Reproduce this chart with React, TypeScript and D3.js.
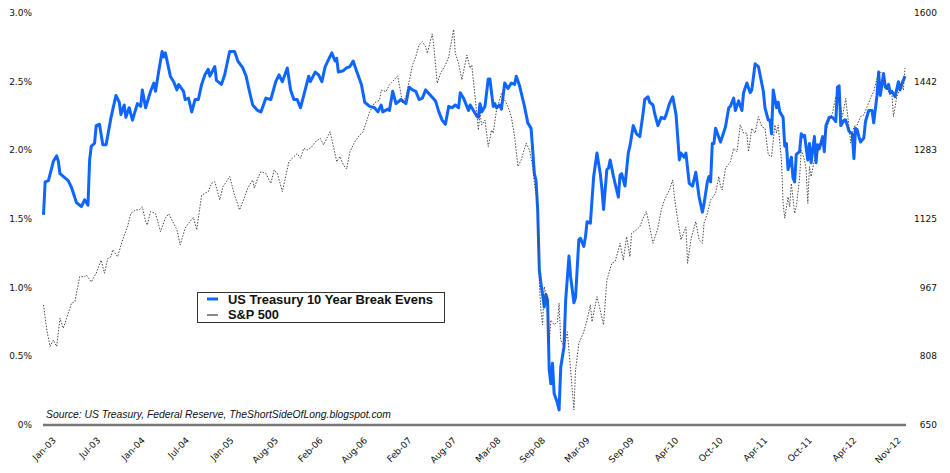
import React from 'react';
import * as d3 from 'd3';

// US Treasury 10 Year Break Evens (%), [week since Jan-03, value]
const breakEvens: [number, number][] = [
  [0,1.53],[1,1.77],[3,1.78],[6,1.92],[8,1.96],[9,1.92],[10,1.83],[15,1.78],[17,1.73],[20,1.62],[23,1.59],[25,1.64],[27,1.60],[28,1.93],[29,2.03],[31,2.05],[32,2.18],[34,2.19],[36,2.04],[38,2.04],[41,2.24],[44,2.40],[46,2.35],[47,2.26],[49,2.33],[50,2.24],[52,2.31],[54,2.22],[57,2.34],[59,2.32],[60,2.44],[62,2.31],[65,2.43],[67,2.49],[68,2.43],[70,2.58],[72,2.72],[73,2.68],[74,2.71],[77,2.54],[79,2.50],[81,2.44],[82,2.48],[85,2.43],[86,2.37],[88,2.38],[90,2.28],[92,2.37],[94,2.37],[96,2.48],[98,2.55],[100,2.59],[101,2.54],[104,2.61],[105,2.51],[108,2.48],[110,2.55],[113,2.72],[116,2.72],[118,2.65],[121,2.60],[123,2.54],[125,2.43],[127,2.33],[130,2.29],[132,2.28],[135,2.38],[138,2.37],[141,2.50],[143,2.55],[145,2.50],[148,2.60],[150,2.44],[152,2.37],[154,2.37],[156,2.31],[158,2.40],[161,2.54],[162,2.50],[165,2.57],[167,2.55],[169,2.50],[171,2.61],[175,2.71],[177,2.65],[178,2.67],[179,2.57],[182,2.58],[184,2.60],[186,2.61],[188,2.65],[190,2.58],[193,2.48],[195,2.35],[198,2.32],[201,2.31],[203,2.28],[205,2.33],[206,2.28],[209,2.30],[210,2.29],[212,2.43],[214,2.34],[217,2.37],[220,2.34],[222,2.46],[224,2.44],[226,2.43],[228,2.37],[230,2.38],[232,2.44],[235,2.40],[238,2.36],[240,2.28],[242,2.22],[244,2.19],[246,2.32],[248,2.31],[250,2.33],[252,2.31],[253,2.42],[255,2.38],[258,2.29],[259,2.33],[262,2.27],[263,2.25],[264,2.24],[265,2.34],[266,2.28],[268,2.32],[270,2.52],[271,2.52],[273,2.32],[274,2.34],[275,2.31],[277,2.33],[278,2.30],[280,2.49],[282,2.45],[284,2.49],[286,2.48],[287,2.54],[289,2.47],[291,2.37],[292,2.32],[294,2.20],[296,2.16],[297,2.00],[298,1.83],[299,1.78],[300,1.57],[301,1.13],[302,1.03],[304,0.86],[305,0.95],[306,0.91],[307,0.40],[308,0.30],[309,0.45],[310,0.23],[312,0.16],[313,0.11],[314,0.42],[316,0.57],[317,0.91],[319,1.23],[320,1.08],[322,0.89],[323,0.93],[325,1.35],[326,1.36],[328,1.30],[329,1.37],[330,1.48],[332,1.47],[334,1.81],[336,1.98],[338,1.83],[339,1.72],[340,1.57],[342,1.86],[343,1.87],[344,1.93],[346,1.81],[347,1.76],[349,1.66],[350,1.82],[351,1.83],[353,1.74],[355,1.98],[356,2.03],[358,2.18],[360,2.12],[362,2.10],[364,2.27],[365,2.37],[367,2.39],[368,2.35],[370,2.33],[371,2.27],[373,2.18],[375,2.24],[377,2.23],[378,2.26],[380,2.34],[382,2.39],[384,2.26],[385,2.10],[386,1.93],[387,1.98],[389,1.95],[390,1.98],[392,1.76],[394,1.74],[396,1.84],[398,1.66],[400,1.55],[401,1.61],[403,1.77],[404,1.81],[405,1.77],[406,2.05],[407,2.05],[408,2.16],[411,2.06],[414,2.17],[416,2.31],[417,2.32],[419,2.38],[420,2.29],[422,2.36],[424,2.29],[425,2.42],[427,2.49],[429,2.42],[430,2.44],[432,2.63],[434,2.61],[435,2.55],[437,2.43],[438,2.31],[440,2.22],[441,2.22],[442,2.12],[443,2.44],[445,2.31],[446,2.35],[447,2.28],[449,2.24],[450,2.03],[451,2.05],[452,1.86],[454,1.95],[455,1.80],[456,1.77],[457,1.97],[459,1.99],[460,2.12],[461,2.10],[462,2.11],[464,1.93],[465,2.05],[466,1.91],[468,2.10],[469,1.91],[470,2.04],[471,2.01],[473,2.10],[474,1.99],[475,2.18],[477,2.24],[479,2.24],[481,2.21],[482,2.46],[483,2.47],[484,2.18],[486,2.22],[487,2.22],[489,2.14],[491,2.12],[492,1.94],[493,2.16],[494,2.15],[495,2.10],[496,2.06],[498,2.09],[499,2.21],[501,2.29],[503,2.29],[504,2.20],[506,2.40],[507,2.57],[508,2.40],[510,2.56],[511,2.46],[512,2.45],[513,2.48],[514,2.42],[515,2.43],[517,2.39],[519,2.50],[520,2.44],[521,2.48],[523,2.54]
];

// S&P 500 index, [week since Jan-03, value]
const sp500: [number, number][] = [
  [0,927],[2,869],[4,831],[6,846],[8,831],[10,896],[12,873],[14,896],[17,931],[19,934],[22,992],[25,992],[26,996],[29,980],[32,1000],[35,1030],[37,1000],[39,1034],[41,1038],[42,1054],[45,1038],[48,1077],[51,1107],[53,1138],[56,1146],[58,1146],[60,1153],[62,1119],[63,1111],[65,1142],[68,1138],[71,1096],[74,1127],[76,1137],[79,1115],[81,1100],[83,1065],[86,1104],[88,1115],[91,1129],[93,1100],[96,1180],[98,1184],[100,1188],[102,1207],[104,1211],[107,1169],[109,1200],[111,1211],[113,1223],[116,1180],[119,1146],[121,1165],[124,1196],[127,1215],[128,1196],[130,1219],[132,1234],[135,1230],[138,1207],[140,1238],[142,1230],[145,1188],[147,1223],[149,1257],[151,1265],[154,1276],[156,1265],[158,1288],[160,1284],[163,1292],[165,1303],[168,1311],[170,1296],[174,1326],[176,1292],[178,1257],[180,1269],[182,1250],[184,1240],[186,1280],[189,1303],[192,1319],[194,1326],[196,1349],[198,1372],[201,1393],[204,1399],[205,1422],[208,1419],[210,1434],[212,1442],[215,1455],[218,1392],[220,1407],[222,1442],[224,1480],[226,1499],[228,1526],[230,1534],[232,1522],[233,1507],[236,1552],[237,1522],[239,1438],[241,1461],[244,1480],[246,1499],[249,1562],[250,1507],[252,1484],[254,1446],[257,1503],[259,1473],[260,1480],[262,1407],[264,1330],[265,1369],[266,1342],[268,1353],[270,1292],[272,1330],[273,1323],[275,1376],[276,1388],[278,1415],[280,1399],[282,1384],[284,1361],[286,1315],[288,1246],[290,1261],[293,1300],[295,1284],[297,1246],[298,1207],[300,1161],[301,977],[302,915],[303,881],[304,969],[306,931],[307,838],[308,892],[310,881],[312,888],[313,931],[314,846],[316,831],[318,865],[320,777],[322,685],[323,777],[325,838],[328,865],[330,892],[332,927],[333,888],[336,946],[338,915],[340,881],[342,984],[345,1023],[347,1027],[349,1054],[350,1069],[352,1030],[354,1084],[356,1038],[357,1092],[360,1100],[362,1107],[364,1127],[366,1142],[368,1107],[370,1069],[373,1104],[375,1146],[377,1169],[380,1192],[382,1215],[383,1176],[385,1123],[386,1100],[387,1077],[390,1107],[391,1023],[393,1077],[394,1092],[396,1119],[398,1077],[400,1069],[401,1115],[403,1138],[405,1169],[408,1184],[410,1223],[411,1200],[412,1192],[414,1242],[417,1257],[419,1288],[421,1280],[423,1342],[425,1323],[427,1323],[428,1280],[430,1334],[432,1323],[434,1361],[436,1338],[438,1334],[440,1273],[442,1269],[444,1342],[445,1323],[446,1342],[448,1261],[449,1161],[450,1127],[452,1176],[453,1153],[454,1207],[456,1138],[457,1153],[459,1219],[460,1284],[462,1261],[463,1238],[464,1161],[465,1246],[466,1223],[468,1261],[470,1284],[472,1300],[474,1315],[477,1353],[479,1369],[481,1407],[483,1403],[485,1361],[487,1403],[489,1338],[490,1300],[492,1338],[494,1342],[496,1361],[498,1365],[500,1384],[502,1403],[504,1419],[506,1449],[508,1465],[510,1453],[512,1426],[514,1411],[515,1415],[516,1361],[518,1407],[519,1415],[521,1438],[522,1422],[523,1473]
];

const xTickLabels = ['Jan-03','Jul-03','Jan-04','Jul-04','Jan-05','Aug-05','Feb-06','Aug-06','Feb-07','Aug-07','Mar-08','Sep-08','Mar-09','Sep-09','Apr-10','Oct-10','Apr-11','Oct-11','Apr-12','Nov-12'];
const xTickStepWeeks = 27;
const leftTicks = [0, 0.5, 1, 1.5, 2, 2.5, 3];
const leftTickLabels = ['0%', '0.5%', '1.0%', '1.5%', '2.0%', '2.5%', '3.0%'];
const rightTickLabels = ['650', '808', '967', '1125', '1283', '1442', '1600'];
const seriesNames = ['US Treasury 10 Year Break Evens', 'S&P 500'];
const sourceText = 'Source: US Treasury, Federal Reserve, TheShortSideOfLong.blogspot.com';

const AXIS_FONT = "'DejaVu Sans', Verdana, sans-serif";

export default function App() {
  const x = d3.scaleLinear().domain([0, 523]).range([43.5, 905]);
  const yL = d3.scaleLinear().domain([0, 3]).range([425, 13]);
  const yR = d3.scaleLinear().domain([650, 1600]).range([425, 13]);
  const rightTicks = d3.range(7).map((i) => 650 + (i * 950) / 6);

  const lineL = d3.line<[number, number]>().x((d) => x(d[0])).y((d) => yL(d[1]));
  const lineR = d3.line<[number, number]>().x((d) => x(d[0])).y((d) => yR(d[1]));

  return (
    <svg width={950} height={473} style={{ position: 'absolute', left: 0, top: 0, background: '#fff' }}>
      <rect x={0} y={0} width={950} height={473} fill="#fff" />
      {leftTicks.map((t, i) => (
        <text key={'l' + i} x={32} y={yL(t)} dy="0.35em" textAnchor="end" fontFamily={AXIS_FONT} fontSize={9} fill="#111">
          {leftTickLabels[i]}
        </text>
      ))}
      {rightTicks.map((t, i) => (
        <text key={'r' + i} x={937} y={yR(t)} dy="0.35em" textAnchor="end" fontFamily={AXIS_FONT} fontSize={9} fill="#111">
          {rightTickLabels[i]}
        </text>
      ))}
      {xTickLabels.map((lab, i) => {
        const px = x(i * xTickStepWeeks) + 13;
        const py = 441;
        return (
          <text key={'x' + i} x={px} y={py} textAnchor="end" fontFamily={AXIS_FONT} fontSize={9} fill="#111"
            transform={`rotate(-45 ${px} ${py})`}>
            {lab}
          </text>
        );
      })}
      <path d={lineL(breakEvens) || ''} fill="none" stroke="#0f66ff" strokeWidth={3} strokeLinejoin="round" />
      <path d={lineR(sp500) || ''} fill="none" stroke="#4a4a4a" strokeWidth={1} strokeDasharray="1.5 1.5" />
      <line x1={43} x2={906} y1={425} y2={425} stroke="#777" strokeWidth={2.5} />
      <text x={46} y={418} fontFamily="'Liberation Sans', Arial, sans-serif" fontStyle="italic" fontSize={10.5} fill="#111"
        textLength={345} lengthAdjust="spacingAndGlyphs">
        {sourceText}
      </text>
      <rect x={197.5} y={292.5} width={247} height={30} fill="#fff" stroke="#333" strokeWidth={1} />
      <line x1={207} x2={218} y1={299} y2={299} stroke="#0f66ff" strokeWidth={3} />
      <line x1={207} x2={218} y1={315} y2={315} stroke="#888" strokeWidth={2} />
      <text x={228} y={303.5} fontFamily="'Liberation Sans', Arial, sans-serif" fontWeight="bold" fontSize={12.5} fill="#111"
        textLength={205} lengthAdjust="spacingAndGlyphs">
        {seriesNames[0]}
      </text>
      <text x={228} y={318.5} fontFamily="'Liberation Sans', Arial, sans-serif" fontWeight="bold" fontSize={12.5} fill="#111"
        textLength={51} lengthAdjust="spacingAndGlyphs">
        {seriesNames[1]}
      </text>
    </svg>
  );
}
